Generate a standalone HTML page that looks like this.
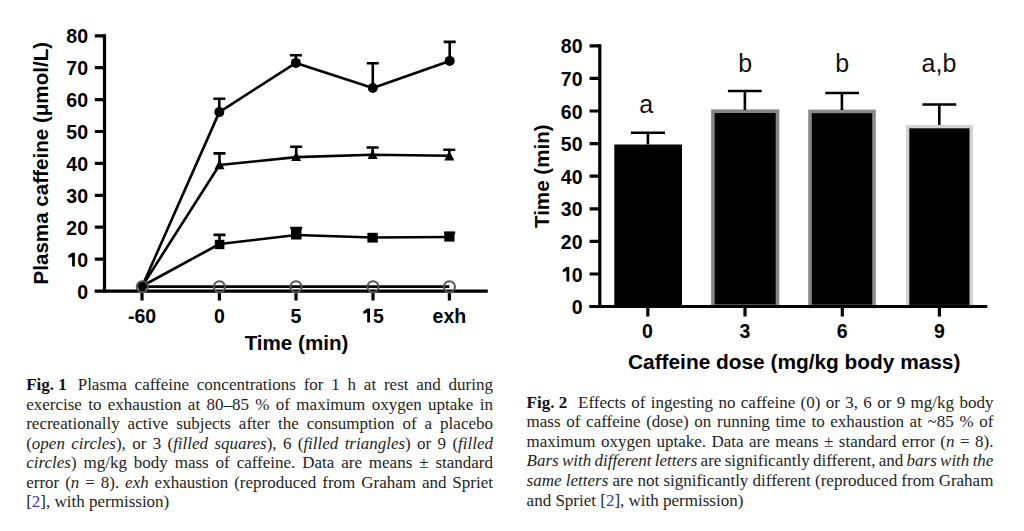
<!DOCTYPE html>
<html><head><meta charset="utf-8">
<style>
html,body{margin:0;padding:0;background:#fff;}
body{width:1024px;height:531px;position:relative;overflow:hidden;}
#wrap{position:absolute;left:0;top:0;width:1024px;height:531px;}
svg{position:absolute;left:0;top:0;}
.ax{font-family:"Liberation Sans",sans-serif;font-weight:bold;font-size:19.5px;fill:#000;}
.lab{font-family:"Liberation Sans",sans-serif;font-weight:bold;font-size:20.6px;fill:#000;}
.lab2{font-size:20.85px;}
.let{font-family:"Liberation Sans",sans-serif;font-size:25px;fill:#111;}
.cap{position:absolute;font-family:"Liberation Serif",serif;font-size:17px;color:#1e1e1e;white-space:nowrap;}
.ln{position:absolute;left:0;height:20px;line-height:20px;text-align:justify;text-align-last:justify;}
.cap b{font-weight:bold;color:#111;}
.fg{display:inline-block;width:51.5px;text-align:left;text-align-last:left;}
.ref{color:#3a3ac8;}
</style></head>
<body><div id="wrap">
<svg width="1024" height="531" viewBox="0 0 1024 531">
 <!-- ===== Chart 1 ===== -->
 <g stroke="#000" stroke-width="3.2" fill="none" stroke-linecap="butt">
  <path d="M104.5 34.2 V292.7"/>
  <path d="M94.7 291.1 H487.8" stroke-width="3.3"/>
  <path d="M94.8 35.8 H104.7 M94.8 67.7 H104.7 M94.8 99.6 H104.7 M94.8 131.5 H104.7 M94.8 163.4 H104.7 M94.8 195.3 H104.7 M94.8 227.2 H104.7 M94.8 259.1 H104.7"/>
  <path d="M142 291 V300.5 M219.4 291 V300.5 M296 291 V300.5 M373 291 V300.5 M449.4 291 V300.5"/>
 </g>
 <g class="ax" text-anchor="end">
  <text x="88" y="43.4">80</text>
  <text x="88" y="75.3">70</text>
  <text x="88" y="107.1">60</text>
  <text x="88" y="139.0">50</text>
  <text x="88" y="170.9">40</text>
  <text x="88" y="202.8">30</text>
  <text x="88" y="234.7">20</text>
  <text x="88" y="266.6">0</text>
  <text x="88" y="298.5">0</text>
 </g>
 <g class="ax" text-anchor="middle">
  <text x="142" y="322.5">-60</text>
  <text x="219.4" y="322.5">0</text>
  <text x="296" y="322.5">5</text>
  <text x="373" y="322.5" text-anchor="start">5</text>
  <text x="449.4" y="322.5">exh</text>
 </g>
 <text class="lab" x="296.5" y="349.8" text-anchor="middle">Time (min)</text>
 <text class="lab" transform="translate(47.6,163.2) rotate(-90)" text-anchor="middle">Plasma caffeine (μmol/L)</text>

 <!-- series lines -->
 <g stroke="#000" stroke-width="2.6" fill="none" stroke-linejoin="round">
  <path d="M142.3 286 L219.3 112.1 L295.9 62.9 L372.8 88 L449.7 60.9"/>
  <path d="M142.3 286 L219.5 165 L296.2 157.1 L372.6 154.8 L449.3 155.7"/>
  <path d="M142.3 286 L219.5 244 L296.2 235 L372.8 237.5 L449.7 237"/>
  <path d="M142.3 286.6 L449.4 286.6" stroke-width="2.8"/>
 </g>
 <!-- error bars -->
 <g stroke="#000" stroke-width="2.6" fill="none">
  <path d="M219.3 112 V98.7 M213.3 98.7 H225.3"/>
  <path d="M295.9 63 V55.2 M289.9 55.2 H301.9"/>
  <path d="M372.8 88 V63.3 M366.8 63.3 H378.8"/>
  <path d="M449.7 61 V41.9 M443.7 41.9 H455.7"/>
  <path d="M219.5 165 V153.4 M213.5 153.4 H225.5"/>
  <path d="M296.2 157 V146.8 M290.2 146.8 H302.2"/>
  <path d="M372.6 155 V147.5 M366.6 147.5 H378.6"/>
  <path d="M449.3 156 V149.8 M443.3 149.8 H455.3"/>
  <path d="M219.5 244 V234.9 M213.5 234.9 H225.5"/>
  <path d="M296.2 235 V228 M290.2 228 H302.2"/>
  <path d="M449.7 236 V232.8 M444.2 232.8 H455.2"/>
 </g>
 <!-- markers -->
 <g fill="#000">
  <circle cx="219.3" cy="112.1" r="5"/>
  <circle cx="295.9" cy="62.9" r="5"/>
  <circle cx="372.8" cy="88" r="5"/>
  <circle cx="449.7" cy="60.9" r="5"/>
  <path d="M219.5 159.5 L224.5 169.2 L214.5 169.2Z"/>
  <path d="M296.2 151.5 L301.2 161 L291.2 161Z"/>
  <path d="M372.6 149.5 L377.6 159 L367.6 159Z"/>
  <path d="M449.3 150.5 L454.3 160.4 L444.3 160.4Z"/>
  <rect x="214.8" y="239.8" width="9.6" height="9.4"/>
  <rect x="291" y="228" width="10.5" height="11.5"/>
  <rect x="367.4" y="232.8" width="10.4" height="9.8"/>
  <rect x="444.3" y="231.8" width="10.2" height="9.8"/>
 </g>
 <g fill="none" stroke="#555" stroke-width="2">
  <circle cx="142.3" cy="286.8" r="5.6"/>
  <circle cx="219.4" cy="286.8" r="5.6"/>
  <circle cx="296" cy="286.8" r="5.6"/>
  <circle cx="373" cy="286.8" r="5.6"/>
  <circle cx="449.4" cy="286.8" r="5.6"/>
 </g>
 <circle cx="142.3" cy="286.3" r="4.4" fill="#000"/>

 <path fill="#000" d="M74.9 252.8 L74.9 266.6 L72.1 266.6 L72.1 256.8 L68.3 258.1 L68.3 255.5 L72.1 252.8Z"/>
 <path fill="#000" d="M569.3 267.0 L569.3 281.6 L566.5 281.6 L566.5 271.0 L562.7 272.3 L562.7 269.7 L566.5 267.0Z"/>
 <path fill="#000" d="M370.0 308.6 L370.0 322.5 L367.2 322.5 L367.2 312.6 L363.4 313.9 L363.4 311.3 L367.2 308.6Z"/>
 <!-- ===== Chart 2 ===== -->
 <!-- bars -->
 <rect x="614.3" y="144.5" width="67.7" height="162" fill="#000"/>
 <rect x="712.9" y="111.2" width="64.6" height="195" fill="#000" stroke="#858585" stroke-width="3.6"/>
 <rect x="810" y="111.4" width="64" height="195" fill="#000" stroke="#8a8a8a" stroke-width="3.6"/>
 <rect x="907.6" y="126.6" width="63.6" height="180" fill="#000" stroke="#d2d2d2" stroke-width="3.4"/>
 <g stroke="#000" stroke-width="3.2" fill="none">
  <path d="M599.8 44.2 V308.1"/>
  <path d="M589.3 306.5 H987.3"/>
  <path d="M589.6 45.8 H599.8 M589.6 78.4 H599.8 M589.6 111 H599.8 M589.6 143.6 H599.8 M589.6 176.2 H599.8 M589.6 208.8 H599.8 M589.6 241.4 H599.8 M589.6 274 H599.8"/>
  <path d="M647.8 306.5 V316.5 M745 306.5 V316.5 M842.3 306.5 V316.5 M939.4 306.5 V316.5"/>
 </g>
 <g stroke="#000" stroke-width="2.6" fill="none">
  <path d="M647.9 144.5 V132.7 M630.9 132.7 H665"/>
  <path d="M744.9 110 V91 M727.9 91 H761.7"/>
  <path d="M841.9 110 V93 M825.3 93 H859"/>
  <path d="M939.3 125 V104.5 M922.4 104.5 H956.3"/>
 </g>
 <g class="ax" text-anchor="end">
  <text x="582.5" y="53.4">80</text>
  <text x="582.5" y="86.0">70</text>
  <text x="582.5" y="118.6">60</text>
  <text x="582.5" y="151.2">50</text>
  <text x="582.5" y="183.8">40</text>
  <text x="582.5" y="216.4">30</text>
  <text x="582.5" y="249.0">20</text>
  <text x="582.5" y="281.6">0</text>
  <text x="582.5" y="314.2">0</text>
 </g>
 <g class="ax" text-anchor="middle">
  <text x="647.5" y="338">0</text>
  <text x="745" y="338">3</text>
  <text x="842.3" y="338">6</text>
  <text x="939.4" y="338">9</text>
 </g>
 <text class="lab lab2" x="794.2" y="368.6" text-anchor="middle">Caffeine dose (mg/kg body mass)</text>
 <text class="lab" transform="translate(548.9,176.2) rotate(-90)" text-anchor="middle">Time (min)</text>
 <g class="let" text-anchor="middle">
  <text x="646.3" y="113">a</text>
  <text x="745.3" y="72">b</text>
  <text x="842.3" y="72">b</text>
  <text x="939" y="72">a,b</text>
 </g>
</svg>

<!-- captions -->
<div class="cap" style="left:26.2px;top:375px;width:466.8px;">
 <div class="ln" style="top:0;width:466.8px;"><b class="fg">Fig. 1</b>Plasma caffeine concentrations for 1 h at rest and during</div>
 <div class="ln" style="top:19.58px;width:466.8px;">exercise to exhaustion at 80–85 % of maximum oxygen uptake in</div>
 <div class="ln" style="top:39.16px;width:466.8px;">recreationally active subjects after the consumption of a placebo</div>
 <div class="ln" style="top:58.74px;width:466.8px;">(<i>open circles</i>), or 3 (<i>filled squares</i>), 6 (<i>filled triangles</i>) or 9 (<i>filled</i></div>
 <div class="ln" style="top:78.32px;width:466.8px;"><i>circles</i>) mg/kg body mass of caffeine. Data are means ± standard</div>
 <div class="ln" style="top:97.9px;width:466.8px;">error (<i>n</i> = 8). <i>exh</i> exhaustion (reproduced from Graham and Spriet</div>
 <div class="ln" style="top:117.48px;text-align:left;text-align-last:left;">[<span class="ref">2</span>], with permission)</div>
</div>
<div class="cap" style="left:526.6px;top:392.5px;width:466.7px;">
 <div class="ln" style="top:0;width:466.8px;"><b class="fg">Fig. 2</b>Effects of ingesting no caffeine (0) or 3, 6 or 9 mg/kg body</div>
 <div class="ln" style="top:19.6px;width:466.8px;">mass of caffeine (dose) on running time to exhaustion at ~85 % of</div>
 <div class="ln" style="top:39.2px;width:466.8px;">maximum oxygen uptake. Data are means ± standard error (<i>n</i> = 8).</div>
 <div class="ln" style="top:58.8px;width:466.8px;word-spacing:-1.3px;"><i>Bars with different letters</i> are significantly different, and <i>bars with the</i></div>
 <div class="ln" style="top:78.4px;width:466.8px;word-spacing:-0.5px;"><i>same letters</i> are not significantly different (reproduced from Graham</div>
 <div class="ln" style="top:98px;text-align:left;text-align-last:left;">and Spriet [<span class="ref">2</span>], with permission)</div>
</div>
</div></body></html>
